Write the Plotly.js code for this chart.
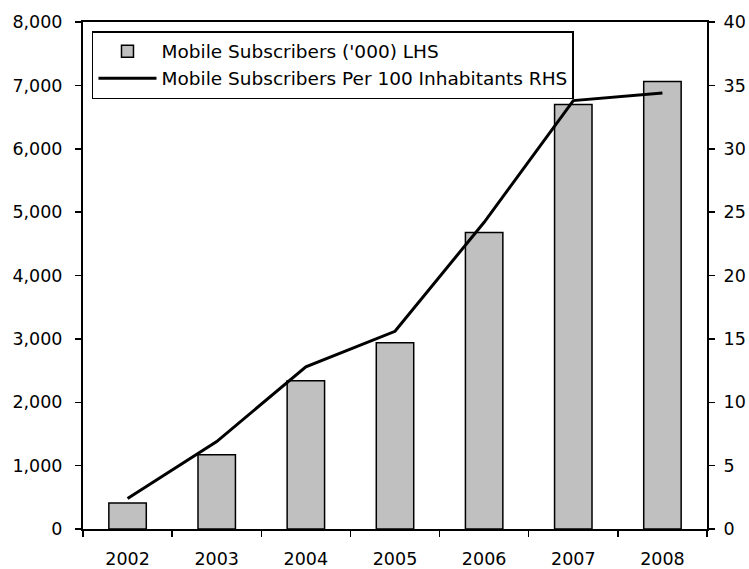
<!DOCTYPE html>
<html>
<head>
<meta charset="utf-8">
<script src="https://cdn.plot.ly/plotly-3.0.1.min.js"></script>
<style>html,body{margin:0;padding:0;background:#fff;}#chart{width:749px;height:569px;}</style>
</head>
<body>
<div id="chart"></div>
<script>
const years = ['2002','2003','2004','2005','2006','2007','2008'];
const subscribers = [410, 1170, 2340, 2940, 4680, 6700, 7060];
const per100 = [2.4, 6.9, 12.8, 15.6, 24.2, 33.8, 34.4];
const leftTicks = [0,1000,2000,3000,4000,5000,6000,7000,8000];
const leftTickText = ['0','1,000','2,000','3,000','4,000','5,000','6,000','7,000','8,000'];
const rightTicks = [0,5,10,15,20,25,30,35,40];

const font = {family: 'DejaVu Sans, Verdana, sans-serif', size: 17.5, color: '#000'};

const traces = [
  {type:'bar', x: years, y: subscribers, name: "Mobile Subscribers ('000) LHS",
   marker:{color:'#c0c0c0', line:{color:'#000', width:1.5}}, width:0.42, yaxis:'y'},
  {type:'scatter', mode:'lines', x: years, y: per100, name:'Mobile Subscribers Per 100 Inhabitants RHS',
   line:{color:'#000', width:3}, yaxis:'y2'}
];

const layout = {
  width:749, height:569,
  margin:{l:83, r:42, t:22, b:40},
  paper_bgcolor:'#fff', plot_bgcolor:'#fff',
  font: font,
  showlegend:true,
  legend:{x:0.0144, y:0.982, xanchor:'left', yanchor:'top', bgcolor:'#fff',
    bordercolor:'#000', borderwidth:1.5, font:{family:font.family, size:18.5, color:'#000'},
    itemwidth:58, tracegroupgap:0, traceorder:'normal'},
  xaxis:{type:'category', tickson:'boundaries', ticks:'outside', ticklen:6, tickcolor:'#000', tickwidth:1.5,
    showline:true, linecolor:'#000', linewidth:2, mirror:true, showgrid:false, zeroline:false,
    tickfont:font, ticklabelstandoff:13},
  yaxis:{range:[0,8000], tickvals:leftTicks, ticktext:leftTickText, ticks:'outside', ticklen:6, tickwidth:1.5,
    tickcolor:'#000', showline:true, linecolor:'#000', linewidth:2, showgrid:false, zeroline:false,
    tickfont:font, ticklabelstandoff:9},
  yaxis2:{range:[0,40], tickvals:rightTicks, overlaying:'y', side:'right', ticks:'outside', ticklen:6, tickwidth:1.5,
    tickcolor:'#000', showline:true, linecolor:'#000', linewidth:2, showgrid:false, zeroline:false,
    tickfont:font, ticklabelstandoff:5}
};

Plotly.newPlot('chart', traces, layout, {displayModeBar:false, staticPlot:true});
</script>
</body>
</html>
